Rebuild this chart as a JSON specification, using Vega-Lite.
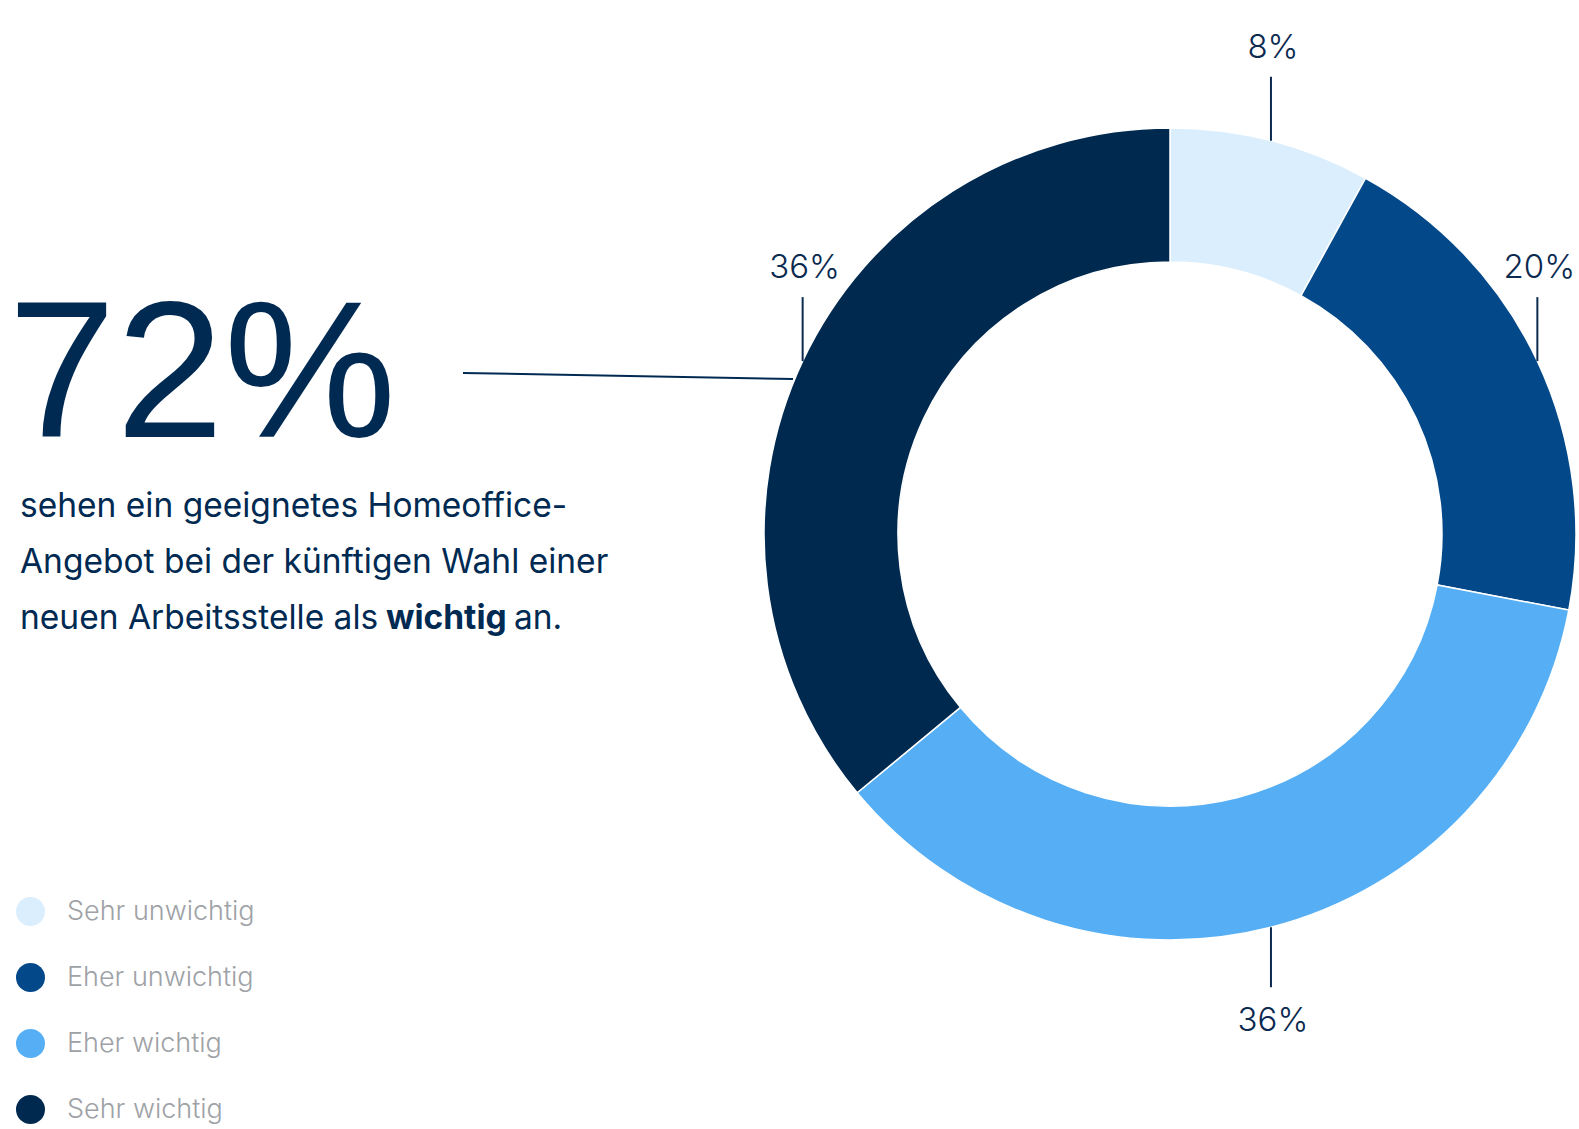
{
  "$schema": "https://vega.github.io/schema/vega-lite/v6.json",
  "width": 1579,
  "height": 1129,
  "autosize": "none",
  "padding": 0,
  "background": "#ffffff",
  "config": {
    "view": {"stroke": null},
    "font": "Inter",
    "text": {"font": "Inter", "color": "#002a52"}
  },
  "datasets": {
    "antworten": [
      {"kategorie": "Sehr unwichtig", "anteil": 8},
      {"kategorie": "Eher unwichtig", "anteil": 20},
      {"kategorie": "Eher wichtig", "anteil": 36},
      {"kategorie": "Sehr wichtig", "anteil": 36}
    ]
  },
  "layer": [
    {
      "data": {"name": "antworten"},
      "transform": [{"window": [{"op": "row_number", "as": "idx"}]}],
      "mark": {"type": "arc", "radius": 406, "radius2": 272, "stroke": "#ffffff", "strokeWidth": 1.5},
      "encoding": {
        "x": {"datum": 0, "type": "quantitative", "scale": {"domain": [-1170, 409], "nice": false, "zero": false}, "axis": null},
        "y": {"datum": 0, "type": "quantitative", "scale": {"domain": [-595, 534], "nice": false, "zero": false}, "axis": null},
        "theta": {"field": "anteil", "type": "quantitative", "stack": true},
        "order": {"field": "idx", "type": "quantitative"},
        "color": {
          "field": "kategorie",
          "type": "nominal",
          "sort": ["Sehr unwichtig", "Eher unwichtig", "Eher wichtig", "Sehr wichtig"],
          "scale": {
            "domain": ["Sehr unwichtig", "Eher unwichtig", "Eher wichtig", "Sehr wichtig"],
            "range": ["#dbeefd", "#034889", "#56aff5", "#00294f"]
          },
          "legend": {
            "title": null,
            "orient": "none",
            "legendX": 16,
            "legendY": 897,
            "symbolType": "circle",
            "symbolSize": 841,
            "symbolStrokeWidth": 0,
            "symbolOpacity": 1,
            "rowPadding": 37,
            "labelOffset": 22,
            "labelFont": "Inter",
            "labelFontSize": 27,
            "labelFontWeight": 300,
            "labelColor": "#9ea2a6",
            "labelLimit": 400
          }
        }
      }
    },
    {
      "data": {"name": "antworten"},
      "transform": [
        {"window": [{"op": "row_number", "as": "idx"}]},
        {"window": [{"op": "sum", "field": "anteil", "as": "kum"}], "sort": [{"field": "idx"}]},
        {"joinaggregate": [{"op": "sum", "field": "anteil", "as": "gesamt"}]},
        {"calculate": "2 * PI * (datum.kum - datum.anteil / 2) / datum.gesamt", "as": "winkel"},
        {"calculate": "406 * sin(datum.winkel)", "as": "px"},
        {"calculate": "406 * cos(datum.winkel)", "as": "py"},
        {"calculate": "datum.py >= 0 ? datum.py + 64 : datum.py - 60", "as": "py2"}
      ],
      "mark": {"type": "rule", "color": "#0b2a50", "strokeWidth": 2},
      "encoding": {
        "x": {"field": "px", "type": "quantitative", "scale": {"domain": [-1170, 409], "nice": false, "zero": false}, "axis": null},
        "y": {"field": "py", "type": "quantitative", "scale": {"domain": [-595, 534], "nice": false, "zero": false}, "axis": null},
        "y2": {"field": "py2"}
      }
    },
    {
      "data": {"name": "antworten"},
      "transform": [
        {"window": [{"op": "row_number", "as": "idx"}]},
        {"window": [{"op": "sum", "field": "anteil", "as": "kum"}], "sort": [{"field": "idx"}]},
        {"joinaggregate": [{"op": "sum", "field": "anteil", "as": "gesamt"}]},
        {"calculate": "2 * PI * (datum.kum - datum.anteil / 2) / datum.gesamt", "as": "winkel"},
        {"calculate": "406 * sin(datum.winkel)", "as": "px"},
        {"calculate": "406 * cos(datum.winkel)", "as": "py"},
        {"calculate": "datum.py >= 0 ? datum.py + 64 + 29 : datum.py - 60 - 34", "as": "ly"},
        {"calculate": "datum.anteil + '%'", "as": "beschriftung"}
      ],
      "mark": {"type": "text", "fontSize": 33, "fontWeight": 300, "baseline": "middle", "align": "center", "dx": 2, "color": "#0b2a50"},
      "encoding": {
        "x": {"field": "px", "type": "quantitative", "scale": {"domain": [-1170, 409], "nice": false, "zero": false}, "axis": null},
        "y": {"field": "ly", "type": "quantitative", "scale": {"domain": [-595, 534], "nice": false, "zero": false}, "axis": null},
        "text": {"field": "beschriftung"}
      }
    },
    {
      "data": {"name": "antworten"},
      "transform": [
        {"filter": {"field": "kategorie", "oneOf": ["Eher wichtig", "Sehr wichtig"]}},
        {"aggregate": [{"op": "sum", "field": "anteil", "as": "wichtig"}]},
        {"calculate": "datum.wichtig + '%'", "as": "kennzahl"}
      ],
      "mark": {"type": "text", "font": "Liberation Sans", "fontSize": 194, "fontWeight": 400, "align": "left", "baseline": "alphabetic", "color": "#002a52"},
      "encoding": {
        "x": {"datum": -1162, "type": "quantitative", "scale": {"domain": [-1170, 409], "nice": false, "zero": false}, "axis": null},
        "y": {"datum": 97, "type": "quantitative", "scale": {"domain": [-595, 534], "nice": false, "zero": false}, "axis": null},
        "text": {"field": "kennzahl"}
      }
    },
    {
      "data": {"values": [{}]},
      "mark": {"type": "rule", "color": "#002a52", "strokeWidth": 2},
      "encoding": {
        "x": {"datum": -707, "type": "quantitative", "scale": {"domain": [-1170, 409], "nice": false, "zero": false}, "axis": null},
        "x2": {"datum": -377},
        "y": {"datum": 161, "type": "quantitative", "scale": {"domain": [-595, 534], "nice": false, "zero": false}, "axis": null},
        "y2": {"datum": 155}
      }
    },
    {
      "data": {"values": [{}]},
      "mark": {
        "type": "text",
        "text": ["sehen ein geeignetes Homeoffice-", "Angebot bei der künftigen Wahl einer", "neuen Arbeitsstelle als"],
        "fontSize": 33.5,
        "lineHeight": 56,
        "align": "left",
        "baseline": "alphabetic",
        "color": "#002a52"
      },
      "encoding": {
        "x": {"datum": -1150, "type": "quantitative", "scale": {"domain": [-1170, 409], "nice": false, "zero": false}, "axis": null},
        "y": {"datum": 17, "type": "quantitative", "scale": {"domain": [-595, 534], "nice": false, "zero": false}, "axis": null}
      }
    },
    {
      "data": {"values": [{}]},
      "mark": {"type": "text", "text": "wichtig", "fontSize": 33.5, "fontWeight": 700, "align": "left", "baseline": "alphabetic", "color": "#002a52"},
      "encoding": {
        "x": {"datum": -784, "type": "quantitative", "scale": {"domain": [-1170, 409], "nice": false, "zero": false}, "axis": null},
        "y": {"datum": -95, "type": "quantitative", "scale": {"domain": [-595, 534], "nice": false, "zero": false}, "axis": null}
      }
    },
    {
      "data": {"values": [{}]},
      "mark": {"type": "text", "text": "an.", "fontSize": 33.5, "align": "left", "baseline": "alphabetic", "color": "#002a52"},
      "encoding": {
        "x": {"datum": -656, "type": "quantitative", "scale": {"domain": [-1170, 409], "nice": false, "zero": false}, "axis": null},
        "y": {"datum": -95, "type": "quantitative", "scale": {"domain": [-595, 534], "nice": false, "zero": false}, "axis": null}
      }
    }
  ]
}
